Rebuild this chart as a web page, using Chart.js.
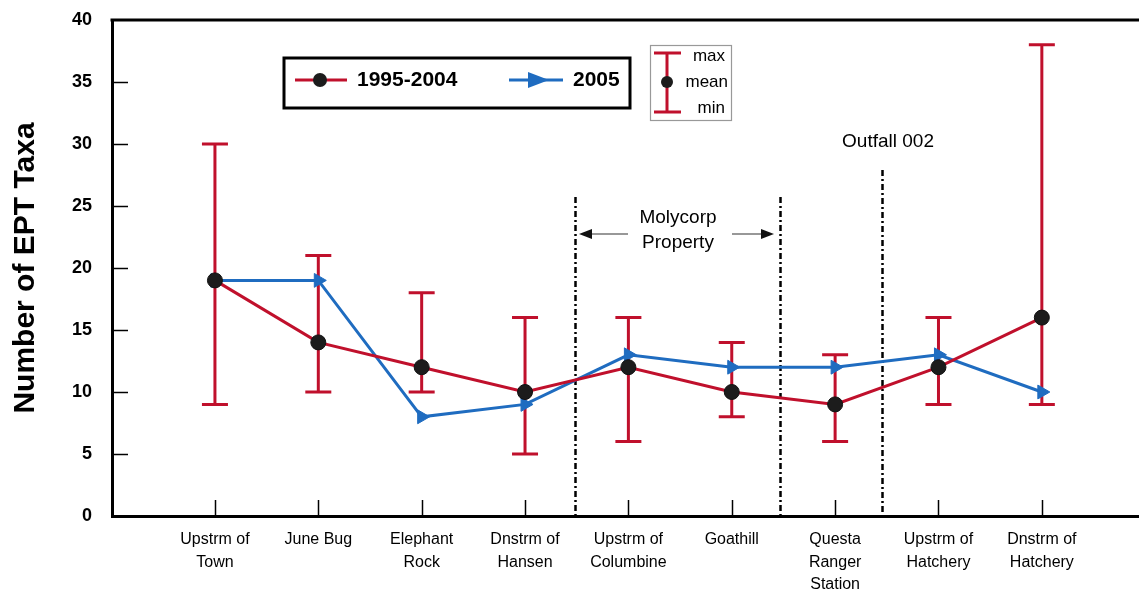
<!DOCTYPE html>
<html>
<head>
<meta charset="utf-8">
<script src="https://cdn.jsdelivr.net/npm/chart.js@4.4.1/dist/chart.umd.min.js"></script>
<style>
  html, body { margin: 0; padding: 0; background: #fff; }
  #wrap { width: 1139px; height: 593px; }
</style>
</head>
<body>
<div id="wrap"><canvas id="c" width="1139" height="593"></canvas></div>
<script>
// ---- data ----
const categories = [
  ['Upstrm of', 'Town'],
  ['June Bug'],
  ['Elephant', 'Rock'],
  ['Dnstrm of', 'Hansen'],
  ['Upstrm of', 'Columbine'],
  ['Goathill'],
  ['Questa', 'Ranger', 'Station'],
  ['Upstrm of', 'Hatchery'],
  ['Dnstrm of', 'Hatchery']
];
const meanVals = [19, 14, 12, 10, 12, 10, 9, 12, 16];
const maxVals  = [30, 21, 18, 16, 16, 14, 13, 16, 38];
const minVals  = [9, 10, 10, 5, 6, 8, 6, 9, 9];
const vals2005 = [19, 19, 8, 9, 13, 12, 12, 13, 10];
const yTicks   = [0, 5, 10, 15, 20, 25, 30, 35, 40];
const seriesNames = ['1995-2004', '2005'];

const RED = '#c0102c';
const BLUE = '#1f6cc0';
const FONT = 'Arial, "Liberation Sans", Helvetica, sans-serif';

const toPoints = arr => arr.map((v, i) => ({ x: i, y: v }));

const overlayPlugin = {
  id: 'overlay',
  beforeDatasetsDraw(chart) {
    const ctx = chart.ctx;
    const xs = chart.scales.x, ys = chart.scales.y;
    const area = chart.chartArea;
    ctx.save();
    // vertical dash-dot separators
    ctx.strokeStyle = '#000';
    ctx.lineWidth = 2.5;
    ctx.setLineDash([6, 3, 2, 3]);
    [[3.48, 197], [5.47, 197], [6.45, 170]].forEach(([v, top]) => {
      const px = Math.round(xs.getPixelForValue(v)) + 0.5;
      ctx.beginPath();
      ctx.moveTo(px, top);
      ctx.lineTo(px, area.bottom);
      ctx.stroke();
    });
    ctx.setLineDash([]);
    // error bars
    ctx.strokeStyle = RED;
    ctx.lineWidth = 3;
    maxVals.forEach((mx, i) => {
      const px = xs.getPixelForValue(i);
      const yt = ys.getPixelForValue(mx);
      const yb = ys.getPixelForValue(minVals[i]);
      ctx.beginPath();
      ctx.moveTo(px, yt); ctx.lineTo(px, yb);
      ctx.moveTo(px - 13, yt); ctx.lineTo(px + 13, yt);
      ctx.moveTo(px - 13, yb); ctx.lineTo(px + 13, yb);
      ctx.stroke();
    });
    ctx.restore();
  },
  afterDraw(chart) {
    const ctx = chart.ctx;
    const xs = chart.scales.x, ys = chart.scales.y;
    const area = chart.chartArea;
    ctx.save();
    // frame top line
    ctx.strokeStyle = '#000';
    ctx.lineWidth = 3;
    ctx.beginPath();
    ctx.moveTo(area.left - 1.5, area.top);
    ctx.lineTo(1139, area.top);
    ctx.stroke();
    // inner tick marks
    ctx.lineWidth = 1.5;
    yTicks.forEach(t => {
      if (t === 0 || t === 40) return;
      const py = Math.round(ys.getPixelForValue(t)) + 0.5;
      ctx.beginPath();
      ctx.moveTo(area.left, py); ctx.lineTo(area.left + 16, py);
      ctx.stroke();
    });
    categories.forEach((c, i) => {
      const px = Math.round(xs.getPixelForValue(i)) + 0.5;
      ctx.beginPath();
      ctx.moveTo(px, area.bottom); ctx.lineTo(px, area.bottom - 16);
      ctx.stroke();
    });

    // annotations
    ctx.fillStyle = '#000';
    ctx.font = '19px ' + FONT;
    ctx.textAlign = 'center';
    ctx.textBaseline = 'middle';
    ctx.fillText('Molycorp', 678, 218);
    ctx.fillText('Property', 678, 243);
    ctx.fillText('Outfall 002', 888, 142);
    // arrows
    ctx.strokeStyle = '#777';
    ctx.lineWidth = 1.5;
    ctx.beginPath();
    ctx.moveTo(628, 234); ctx.lineTo(588, 234);
    ctx.moveTo(732, 234); ctx.lineTo(765, 234);
    ctx.stroke();
    ctx.fillStyle = '#111';
    ctx.beginPath();
    ctx.moveTo(579, 234); ctx.lineTo(592, 229); ctx.lineTo(592, 239); ctx.closePath();
    ctx.fill();
    ctx.beginPath();
    ctx.moveTo(774, 234); ctx.lineTo(761, 229); ctx.lineTo(761, 239); ctx.closePath();
    ctx.fill();

    // legend box 1
    ctx.strokeStyle = '#000';
    ctx.lineWidth = 3;
    ctx.strokeRect(284, 58, 346, 50);
    ctx.strokeStyle = RED;
    ctx.lineWidth = 3;
    ctx.beginPath(); ctx.moveTo(295, 80); ctx.lineTo(347, 80); ctx.stroke();
    ctx.fillStyle = '#1c1c1c';
    ctx.beginPath(); ctx.arc(320, 80, 7, 0, Math.PI * 2); ctx.fill();
    ctx.strokeStyle = BLUE;
    ctx.beginPath(); ctx.moveTo(509, 80); ctx.lineTo(563, 80); ctx.stroke();
    ctx.fillStyle = BLUE;
    ctx.beginPath(); ctx.moveTo(549, 80); ctx.lineTo(528, 72); ctx.lineTo(528, 88); ctx.closePath(); ctx.fill();
    ctx.fillStyle = '#000';
    ctx.font = 'bold 21px ' + FONT;
    ctx.textAlign = 'left';
    ctx.fillText(seriesNames[0], 357, 80);
    ctx.fillText(seriesNames[1], 573, 80);

    // legend box 2
    ctx.strokeStyle = '#999';
    ctx.lineWidth = 1.2;
    ctx.strokeRect(650.5, 45.5, 81, 75);
    ctx.strokeStyle = RED;
    ctx.lineWidth = 3;
    ctx.beginPath();
    ctx.moveTo(667, 53); ctx.lineTo(667, 112);
    ctx.moveTo(654, 53); ctx.lineTo(681, 53);
    ctx.moveTo(654, 112); ctx.lineTo(681, 112);
    ctx.stroke();
    ctx.fillStyle = '#1c1c1c';
    ctx.beginPath(); ctx.arc(667, 82, 6, 0, Math.PI * 2); ctx.fill();
    ctx.fillStyle = '#000';
    ctx.font = '17px ' + FONT;
    ctx.textAlign = 'right';
    ctx.fillText('max', 725, 56);
    ctx.fillText('mean', 728, 82);
    ctx.fillText('min', 725, 108);
    ctx.restore();
  }
};

new Chart(document.getElementById('c'), {
  type: 'line',
  data: {
    datasets: [
      {
        label: seriesNames[0],
        data: toPoints(meanVals),
        borderColor: RED,
        borderWidth: 3,
        pointStyle: 'circle',
        pointRadius: 7.5,
        pointBackgroundColor: '#1c1c1c',
        pointBorderColor: '#111',
        pointBorderWidth: 1,
        tension: 0
      },
      {
        label: seriesNames[1],
        data: toPoints(vals2005),
        borderColor: BLUE,
        borderWidth: 3,
        pointStyle: 'triangle',
        rotation: 90,
        pointRadius: 8,
        pointBackgroundColor: BLUE,
        pointBorderColor: BLUE,
        pointBorderWidth: 1,
        tension: 0
      }
    ]
  },
  options: {
    responsive: false,
    animation: false,
    layout: { autoPadding: false, padding: { top: 20, right: 0, bottom: 0, left: 0 } },
    plugins: { legend: { display: false }, tooltip: { enabled: false } },
    scales: {
      x: {
        type: 'linear',
        min: -0.996,
        max: 8.94,
        afterBuildTicks(scale) { scale.ticks = categories.map((_, i) => ({ value: i })); },
        afterFit(scale) {
          scale.height = 77;
          scale.paddingLeft = 0; scale.paddingRight = 0;
          scale.paddingTop = 0; scale.paddingBottom = 0;
        },
        grid: { display: false, drawTicks: false },
        border: { display: true, color: '#000', width: 3 },
        ticks: {
          autoSkip: false,
          maxRotation: 0,
          padding: 13,
          color: '#000',
          font: { family: FONT, size: 16, lineHeight: 1.38 },
          callback: (v) => categories[v] || ''
        }
      },
      y: {
        min: 0,
        max: 40,
        afterBuildTicks(scale) { scale.ticks = yTicks.map(v => ({ value: v })); },
        afterFit(scale) {
          scale.width = 112;
          scale.paddingTop = 0; scale.paddingBottom = 0;
          scale.paddingLeft = 0; scale.paddingRight = 0;
        },
        grid: { display: false, drawTicks: false },
        border: { display: true, color: '#000', width: 3 },
        ticks: {
          padding: 20,
          color: '#000',
          font: { family: FONT, size: 18, weight: 'bold' }
        },
        title: {
          display: true,
          text: 'Number of EPT Taxa',
          color: '#000',
          font: { family: FONT, size: 30, weight: 'bold' },
          padding: { top: 8, bottom: 0 }
        }
      }
    }
  },
  plugins: [overlayPlugin]
});
</script>
</body>
</html>
